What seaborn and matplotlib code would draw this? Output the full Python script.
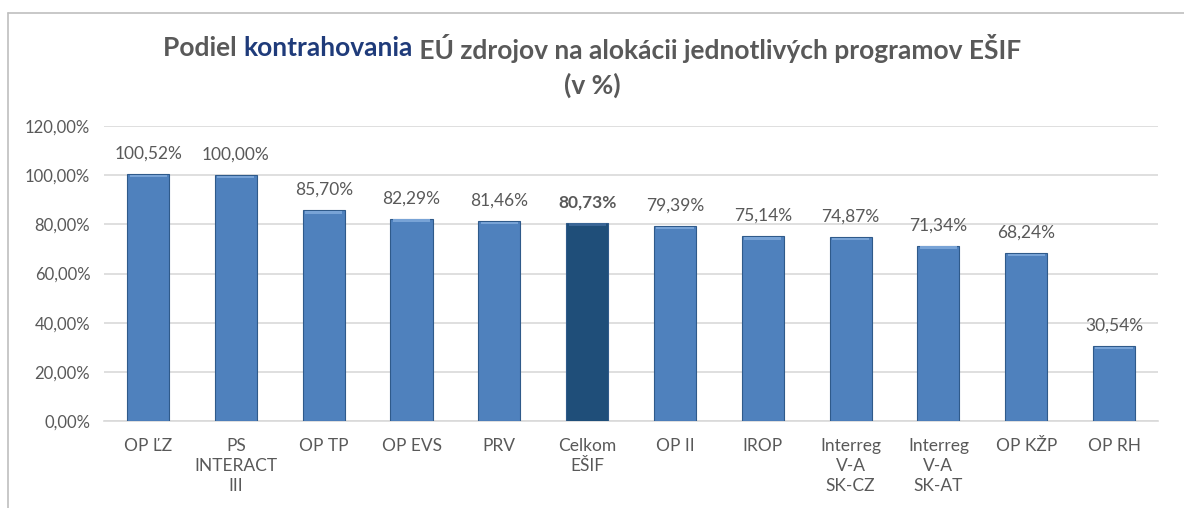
import numpy as np
import pandas as pd
import matplotlib
matplotlib.use("Agg")
import matplotlib.pyplot as plt
import seaborn as sns
from matplotlib.patches import Rectangle
from matplotlib.lines import Line2D

# data
programs = ["OP ĽZ", "PS\nINTERACT\nIII", "OP TP", "OP EVS", "PRV", "Celkom\nEŠIF",
            "OP II", "IROP", "Interreg\nV-A\nSK-CZ", "Interreg\nV-A\nSK-AT", "OP KŽP", "OP RH"]
shares = [100.52, 100.00, 85.70, 82.29, 81.46, 80.73, 79.39, 75.14, 74.87, 71.34, 68.24, 30.54]
total_label = "Celkom\nEŠIF"
y_ticks = [0, 20, 40, 60, 80, 100, 120]

BLUE = "#4F81BD"
DARK = "#1F4E79"
GRAY = "#595959"

sns.set_theme(style="white")
plt.rcParams['font.family'] = ['Lato', 'DejaVu Sans']

df = pd.DataFrame({"program": programs, "share": shares})
palette = {p: (DARK if p == total_label else BLUE) for p in programs}

fig = plt.figure(figsize=(11.84, 5.08), dpi=100)
ax = fig.add_axes([0.088, 0.171, 0.890, 0.581])

sns.barplot(data=df, x="program", y="share", hue="program", palette=palette,
            width=0.48, saturation=1, legend=False, ax=ax, zorder=3,
            edgecolor="#2F5A8A", linewidth=0.8)

# bevel look: lighter strip on top of each bar
for p in ax.patches:
    x0, w, h = p.get_x(), p.get_width(), p.get_height()
    light = "#78A3D6" if p.get_facecolor()[2] > 0.6 else "#3A6696"
    ax.add_patch(Rectangle((x0 + w * 0.06, h - 1.3), w * 0.88, 1.0,
                           facecolor=light, edgecolor="none", zorder=4))

ax.set_ylim(0, 120)
ax.set_xlim(-0.5, len(programs) - 0.5)
ax.set_yticks(y_ticks)
ax.set_yticklabels([f"{v:.2f}%".replace(".", ",") for v in y_ticks])
ax.yaxis.grid(True, color="#D9D9D9", linewidth=1.2, zorder=0)
ax.set_axisbelow(True)
for s in ["top", "right", "left"]:
    ax.spines[s].set_visible(False)
ax.spines["bottom"].set_color("#D9D9D9")
ax.spines["bottom"].set_linewidth(1.2)
ax.tick_params(axis="y", length=0, labelsize=12, labelcolor=GRAY, pad=10)
ax.tick_params(axis="x", length=0, labelsize=12.5, labelcolor=GRAY, pad=12)
ax.set_xlabel("")
ax.set_ylabel("")
for lbl in ax.get_xticklabels():
    lbl.set_linespacing(1.3)

# value labels
for i, (p, v) in enumerate(zip(programs, shares)):
    ax.annotate(f"{v:.2f}%".replace(".", ","), (i, v), xytext=(0, 9),
                textcoords="offset points", ha="center", va="bottom",
                fontsize=12.5, color=GRAY,
                fontweight="bold" if p == total_label else "normal")

# title with a coloured word
parts = [("Podiel ", GRAY), ("kontrahovania", "#1F3B7A"),
         (" EÚ zdrojov na alokácii jednotlivých programov EŠIF", GRAY)]
fig.canvas.draw()
r = fig.canvas.get_renderer()
texts = [fig.text(0, 0.905, s, color=c, fontsize=19, fontweight="bold",
                  ha="left", va="center") for s, c in parts]
widths = [t.get_window_extent(r).width for t in texts]
x = (1184 * 0.5 - sum(widths) / 2)
for t, w in zip(texts, widths):
    t.set_x(x / 1184)
    x += w
fig.text(0.5, 0.833, "(v %)", color=GRAY, fontsize=19, fontweight="bold",
         ha="center", va="center")

# chart frame
fig.add_artist(Line2D([8 / 1184, 1], [1 - 13 / 508] * 2, color="#BFBFBF", lw=1.2))
fig.add_artist(Line2D([8 / 1184] * 2, [0, 1 - 13 / 508], color="#BFBFBF", lw=1.2))

fig.savefig("out.png", dpi=100, facecolor="white")
